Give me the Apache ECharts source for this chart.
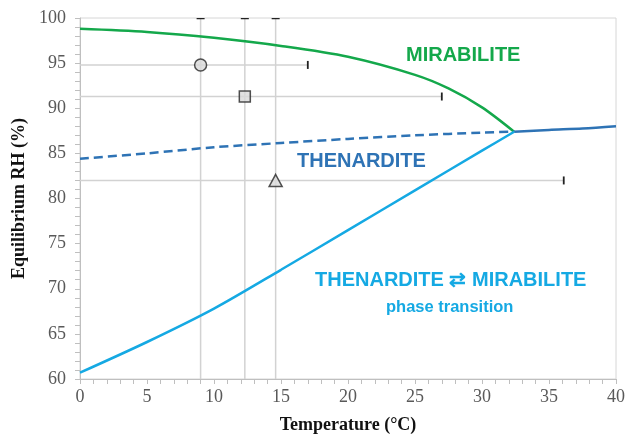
<!DOCTYPE html>
<html><head><meta charset="utf-8">
<script src="https://cdn.jsdelivr.net/npm/echarts@6/dist/echarts.min.js"></script>
<style>html,body{margin:0;padding:0;background:#fff}#c{width:628px;height:441px}</style>
</head><body><div id="c"></div>
<script>
// Mirabilite deliquescence curve
const mirabiliteT  = [0, 5, 10, 15, 20, 25, 27.5, 30, 32.4];
const mirabiliteRH = [98.8, 98.45, 97.8, 96.9, 95.7, 93.7, 92.2, 90.1, 87.4];
// Thenardite (metastable, dashed)
const thenarditeMetaT  = [0, 5, 10, 15, 20, 25, 30, 32.4];
const thenarditeMetaRH = [84.4, 85.0, 85.68, 86.15, 86.6, 87.0, 87.3, 87.4];
// Thenardite (stable, solid)
const thenarditeT  = [32.4, 35, 37.5, 40];
const thenarditeRH = [87.4, 87.6, 87.75, 88.0];
// Thenardite <-> mirabilite transition
const transitionT  = [0, 5, 10, 15, 20, 25, 30, 32.4];
const transitionRH = [60.7, 64.1, 67.8, 72.1, 76.5, 80.9, 85.3, 87.4];
// Measured points with error bars
const pointSymbols = ['circle', 'rect', 'triangle'];
const pointT   = [9.0, 12.3, 14.6];
const pointRH  = [94.8, 91.3, 82.0];
const errTLow  = [0, 0, 0];
const errTHigh = [17.0, 27.0, 36.1];
const errRHLow  = [60, 60, 60];
const errRHHigh = [100, 100, 100];
// Axis ticks
const xTicks = {min: 0, max: 40, interval: 5};
const yTicks = {min: 60, max: 100, interval: 5};

const zip = (a, b) => a.map((v, i) => [v, b[i]]);
const GREEN = '#14a84b', DBLUE = '#2e73b5', LBLUE = '#15a9e3';
const GRAYLINE = '#d2d2d2';

const chart = echarts.init(document.getElementById('c'));
const serif = '"Liberation Serif","Times New Roman",serif';
const sans = '"Liberation Sans",Arial,sans-serif';

const errData = pointT.map((t, i) => [t, pointRH[i], errTLow[i], errTHigh[i], errRHLow[i], errRHHigh[i]]);

chart.setOption({
  animation: false,
  grid: {left: 80, right: 10, top: 18, bottom: 62, show: true, borderColor: '#d6d6d6', borderWidth: 1},
  xAxis: {
    type: 'value', min: xTicks.min, max: xTicks.max, interval: xTicks.interval,
    name: 'Temperature (°C)', nameLocation: 'middle', nameGap: 37,
    nameTextStyle: {fontFamily: serif, fontWeight: 'bold', fontSize: 18, color: '#111'},
    axisLine: {show: true, lineStyle: {color: '#bfbfbf', width: 1}},
    axisTick: {show: true, length: 5, lineStyle: {color: '#bfbfbf'}},
    minorTick: {show: true, splitNumber: 5, length: 5, lineStyle: {color: '#bfbfbf'}},
    splitLine: {show: false},
    axisLabel: {fontFamily: serif, fontSize: 18, color: '#595959', margin: 9}
  },
  yAxis: {
    type: 'value', min: yTicks.min, max: yTicks.max, interval: yTicks.interval,
    name: 'Equilibrium RH (%)', nameLocation: 'middle', nameGap: 47,
    nameTextStyle: {fontFamily: serif, fontWeight: 'bold', fontSize: 18, color: '#111'},
    axisLine: {show: true, lineStyle: {color: '#bfbfbf', width: 1}},
    axisTick: {show: true, length: 5, lineStyle: {color: '#bfbfbf'}},
    minorTick: {show: true, splitNumber: 5, length: 5, lineStyle: {color: '#bfbfbf'}},
    splitLine: {show: false},
    axisLabel: {fontFamily: serif, fontSize: 18, color: '#595959', margin: 14}
  },
  series: [
    {
      type: 'custom', z: 1, clip: true,
      data: errData,
      renderItem: function (params, api) {
        const t = api.value(0), rh = api.value(1);
        const tl = api.value(2), th = api.value(3), rl = api.value(4), rhh = api.value(5);
        const vb = api.coord([t, rl]), vt = api.coord([t, rhh]);
        const hl = api.coord([tl, rh]), hr = api.coord([th, rh]);
        return {type: 'group', children: [
          {type: 'line', shape: {x1: vb[0], y1: vb[1], x2: vt[0], y2: vt[1]}, style: {stroke: GRAYLINE, lineWidth: 1.5}},
          {type: 'line', shape: {x1: hl[0], y1: hl[1], x2: hr[0], y2: hr[1]}, style: {stroke: GRAYLINE, lineWidth: 1.5}},
          {type: 'line', shape: {x1: vt[0] - 4, y1: vt[1], x2: vt[0] + 4, y2: vt[1]}, style: {stroke: '#222', lineWidth: 2.5}},
          {type: 'line', shape: {x1: hr[0], y1: hr[1] - 4, x2: hr[0], y2: hr[1] + 4}, style: {stroke: '#222', lineWidth: 1.8}}
        ]};
      }
    },
    {type: 'line', data: zip(mirabiliteT, mirabiliteRH), smooth: 0.3, symbol: 'none', z: 3,
     lineStyle: {color: GREEN, width: 2.5}},
    {type: 'line', data: zip(thenarditeMetaT, thenarditeMetaRH), smooth: 0.3, symbol: 'none', z: 3,
     lineStyle: {color: DBLUE, width: 2.5, type: [9, 5]}},
    {type: 'line', data: zip(thenarditeT, thenarditeRH), smooth: 0.3, symbol: 'none', z: 3,
     lineStyle: {color: DBLUE, width: 2.5}},
    {type: 'line', data: zip(transitionT, transitionRH), smooth: 0.3, symbol: 'none', z: 3,
     lineStyle: {color: LBLUE, width: 2.5}},
    {type: 'scatter', z: 5,
     data: pointT.map((t, i) => ({value: [t, pointRH[i]], symbol: pointSymbols[i],
       symbolSize: pointSymbols[i] === 'triangle' ? [13, 12] : (pointSymbols[i] === 'rect' ? 11 : 12)})),
     itemStyle: {color: '#d9d9d9', borderColor: '#262626', borderWidth: 1.5}}
  ],
  graphic: [
    {type: 'text', left: 406, top: 45, style: {text: 'MIRABILITE', fill: GREEN, font: 'bold 20px ' + sans}},
    {type: 'text', left: 297, top: 151, style: {text: 'THENARDITE', fill: DBLUE, font: 'bold 20px ' + sans}},
    {type: 'text', left: 315, top: 270, style: {text: 'THENARDITE ⇄ MIRABILITE', fill: LBLUE, font: 'bold 20px ' + sans}},
    {type: 'text', left: 386, top: 299, style: {text: 'phase transition', fill: LBLUE, font: 'bold 16.5px ' + sans}}
  ]
});
</script></body></html>
